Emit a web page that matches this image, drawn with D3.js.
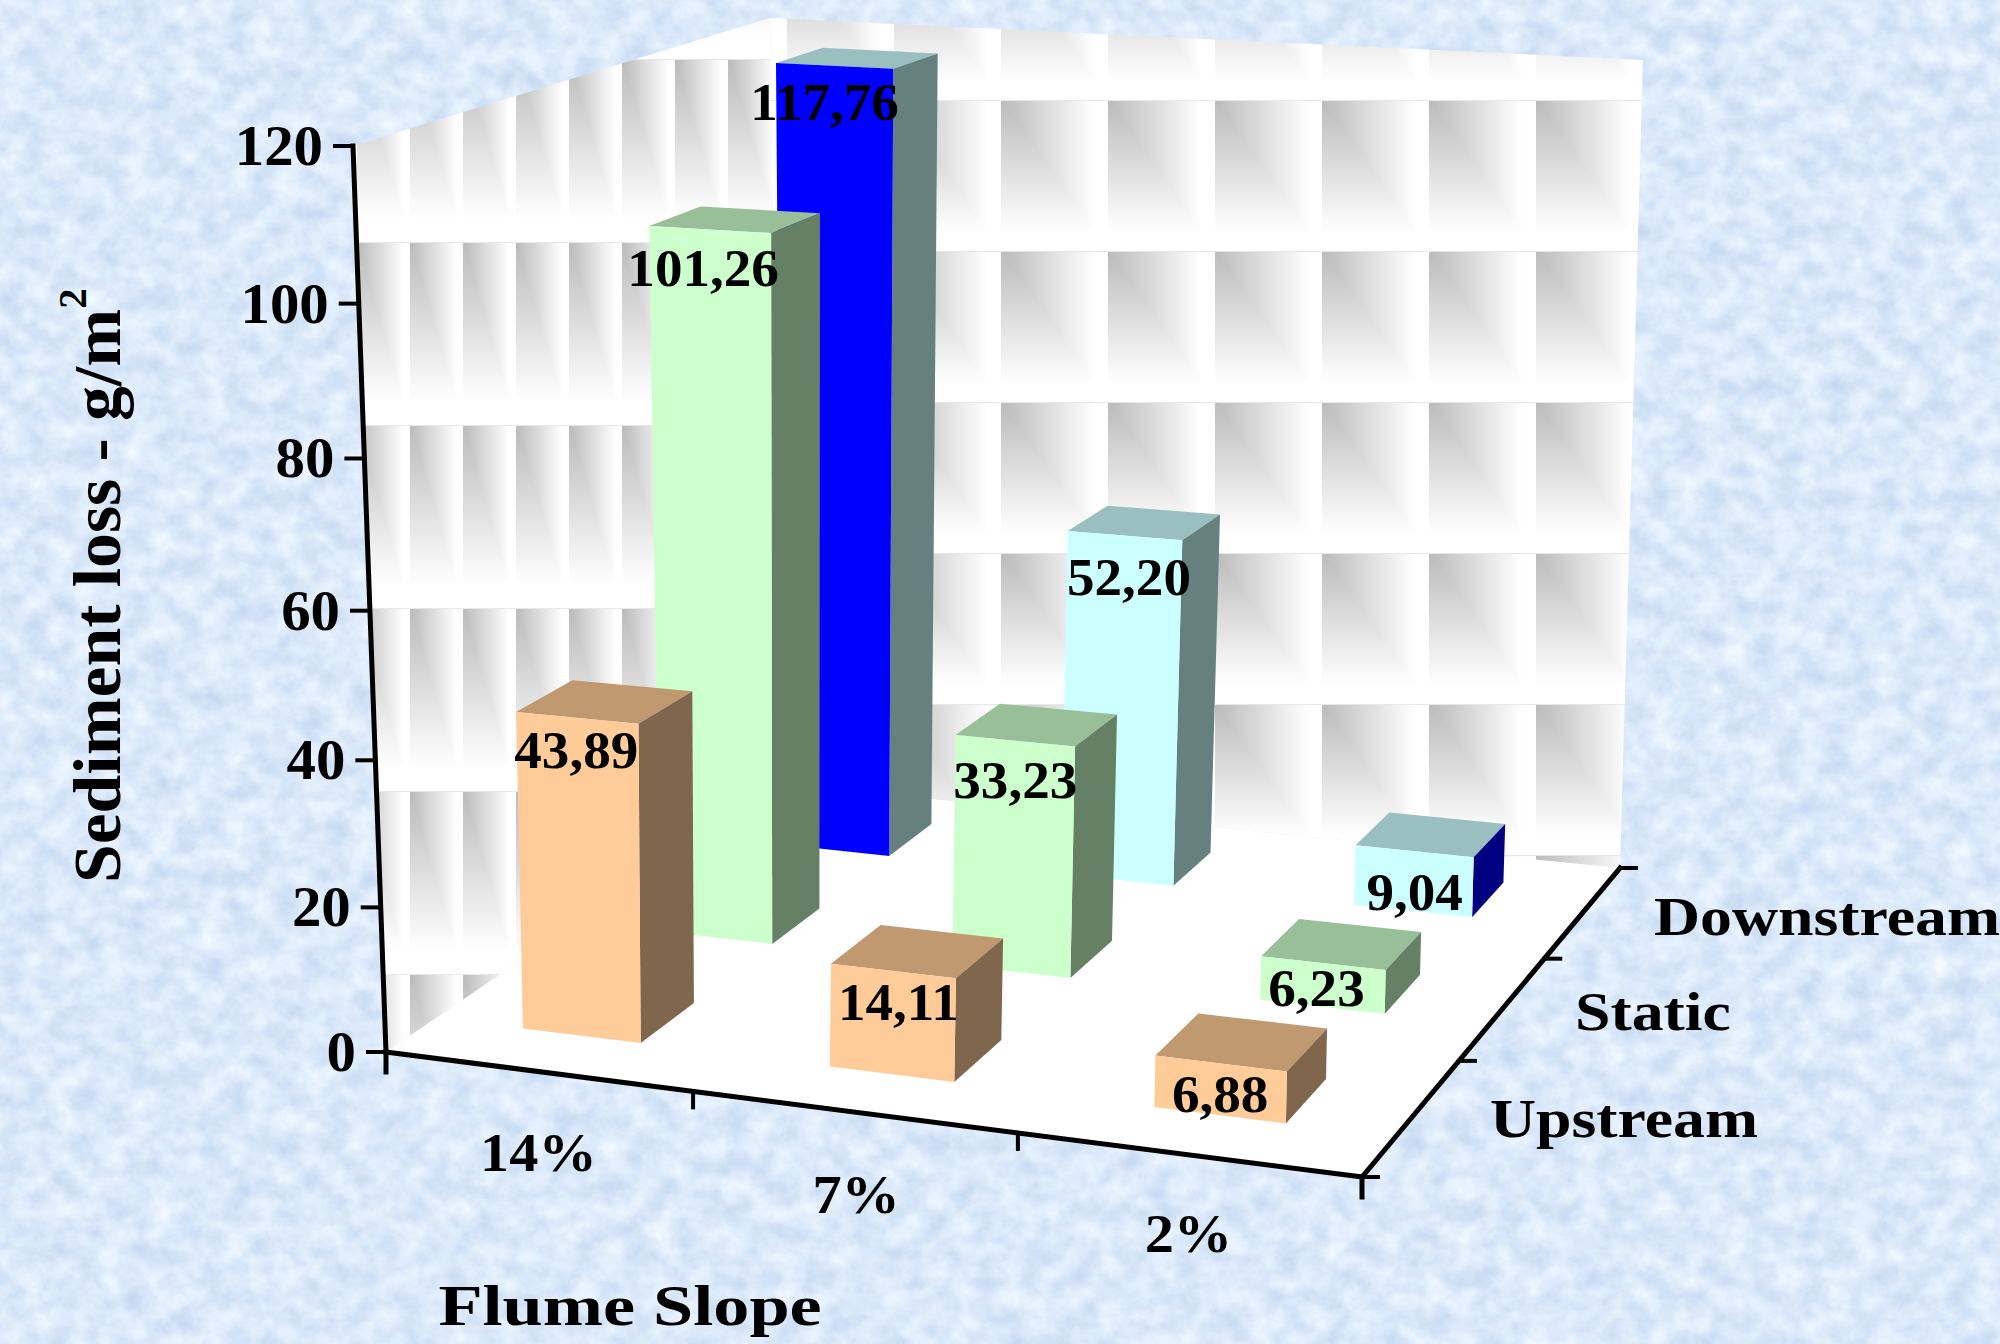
<!DOCTYPE html>
<html>
<head>
<meta charset="utf-8">
<script src="https://cdnjs.cloudflare.com/ajax/libs/d3/7.8.5/d3.min.js"></script>
<style>
html,body{margin:0;padding:0;background:#dbe9fa;overflow:hidden}
svg{display:block}
text{font-family:"Liberation Serif",serif;font-weight:700;fill:#000}
</style>
</head>
<body>
<svg id="chart" width="2000" height="1344"></svg>
<script>
// Sediment loss per flume slope and measuring position
const slopes = ["14%", "7%", "2%"];
const positions = ["Upstream", "Static", "Downstream"];
const upstream = [43.89, 14.11, 6.88];
const staticPos = [101.26, 33.23, 6.23];
const downstream = [117.76, 52.20, 9.04];
const seriesValues = [upstream, staticPos, downstream];
const valueTicks = [0, 20, 40, 60, 80, 100, 120];

// Face colours per series, with the per-point overrides of this chart
const frontColors = [["#FFCC99", "#FFCC99", "#FFCC99"], ["#CCFFCC", "#CCFFCC", "#CCFFCC"], ["#0000FF", "#CCFFFF", "#CCFFFF"]];
const topColors = ["#C09970", "#99BF99", "#99BFBF"];
const sideColors = [["#80664D", "#80664D", "#80664D"], ["#668066", "#668066", "#668066"], ["#668080", "#668080", "#000080"]];

// Small per-label shifts from the top of the front face
const labelShift = [[[1, 32], [7, 31], [1, 30]], [[-5, 38], [2, 39], [-5, 25]], [[-8, 36], [6, 41], [2, 41]]];

// Scene corners in page pixels: floor and the plane at the axis maximum
const floorQuad = [[386, 1052], [1362, 1177], [1620, 868], [780, 784]];
const roofQuad = [[353, 146], [1377, 195], [1643, 60], [770, 18]];
const depthRatio = 1.053;

function unitSquareToQuad(q) {
  const [[x0, y0], [x1, y1], [x2, y2], [x3, y3]] = q;
  const sx = x0 - x1 + x2 - x3, sy = y0 - y1 + y2 - y3;
  const dx1 = x1 - x2, dx2 = x3 - x2, dy1 = y1 - y2, dy2 = y3 - y2;
  const den = dx1 * dy2 - dx2 * dy1;
  const g = (sx * dy2 - dx2 * sy) / den, h = (dx1 * sy - sx * dy1) / den;
  const a = x1 - x0 + g * x1, b = x3 - x0 + h * x3, c = x0;
  const d = y1 - y0 + g * y1, e = y3 - y0 + h * y3, f = y0;
  return (u, v) => {
    const w = g * u + h * v + 1;
    return [(a * u + b * v + c) / w, (d * u + e * v + f) / w];
  };
}
const floorAt = unitSquareToQuad(floorQuad);
const roofAt = unitSquareToQuad(roofQuad);

const xBand = d3.scaleBand().domain(slopes).range([0, 1]);
const zBand = d3.scaleBand().domain(positions).range([0, 1]);
const yScale = d3.scaleLinear().domain([0, 120]).range([0, 1]);

// Model point (x along slopes, z in depth, value upward) to page pixels
function project(x, z, value) {
  const t = yScale(value);
  const s = t / (t + (1 - t) * depthRatio);
  const b = floorAt(x, z), r = roofAt(x, z);
  return [b[0] + (r[0] - b[0]) * s, b[1] + (r[1] - b[1]) * s];
}

const svg = d3.select("#chart");
const defs = svg.append("defs");
const poly = pts => pts.map(p => p.map(n => n.toFixed(1)).join(",")).join(" ");

// Mottled paper backdrop
const paper = defs.append("filter").attr("id", "paper")
  .attr("x", 0).attr("y", 0).attr("width", "100%").attr("height", "100%")
  .attr("color-interpolation-filters", "sRGB");
paper.append("feTurbulence").attr("type", "fractalNoise")
  .attr("baseFrequency", "0.04 0.045").attr("numOctaves", 5).attr("seed", 7);
paper.append("feColorMatrix").attr("type", "matrix")
  .attr("values", "0.22 0 0 0 0.75  0.16 0 0 0 0.835  0.08 0 0 0 0.94  0 0 0 0 1");
svg.append("rect").attr("width", 2000).attr("height", 1344).attr("filter", "url(#paper)");

// Wall tile: grey at the upper-left corner, mitred fade to white
function tileUrl(w, h) {
  const c = document.createElement("canvas");
  c.width = w; c.height = h;
  const ctx = c.getContext("2d");
  const img = ctx.createImageData(w, h);
  for (let j = 0; j < h; j++) for (let i = 0; i < w; i++) {
    const t = Math.min(1, Math.max(i / w, j / h) / 0.87);
    const g = j === 0 ? 232 : 187 + 68 * t;
    const k = (j * w + i) * 4;
    img.data[k] = img.data[k + 1] = img.data[k + 2] = g;
    img.data[k + 3] = 255;
  }
  ctx.putImageData(img, 0, 0);
  return c.toDataURL();
}
function addTile(id, w, h, ox, oy) {
  defs.append("pattern").attr("id", id).attr("patternUnits", "userSpaceOnUse")
    .attr("x", ox).attr("y", oy).attr("width", w).attr("height", h)
    .append("image").attr("href", tileUrl(w, h)).attr("width", w).attr("height", h);
}
addTile("tileBack", 107, 151, 1001, 100);
addTile("tileSide", 53, 183, 410, 59);

const maxV = yScale.domain()[1];
// Left wall, back wall and floor
svg.append("polygon").attr("fill", "url(#tileSide)")
  .attr("points", poly([project(0, 0, 0), project(0, 0, maxV), project(0, 1, maxV), project(0, 1, 0)]));
svg.append("polygon").attr("fill", "url(#tileBack)")
  .attr("points", poly([project(0, 1, 0), project(0, 1, maxV), project(1, 1, maxV), project(1, 1, 0)]));
svg.append("polygon").attr("fill", "#fff")
  .attr("points", poly([project(0, 0, 0), project(1, 0, 0), project(1, 1, 0), project(0, 1, 0)]));

// Axes
const axes = svg.append("g").attr("stroke", "#000").attr("stroke-linecap", "square");
function axisLine(a, b, w) {
  axes.append("line").attr("x1", a[0]).attr("y1", a[1]).attr("x2", b[0]).attr("y2", b[1]).attr("stroke-width", w);
}
axisLine(project(0, 0, 0), project(0, 0, maxV), 5);
axisLine(project(0, 0, 0), project(1, 0, 0), 5);
axisLine(project(1, 0, 0), project(1, 1, 0), 5);
valueTicks.forEach(v => {
  const p = project(0, 0, v);
  axisLine([p[0] - 18, p[1]], p, 4);
});
[0, 1, 2, 3].forEach(i => {
  const u = i === 3 ? 1 : xBand(slopes[i]);
  const p = project(u, 0, 0);
  if (i === 0 || i === 3) axisLine(p, [p[0], p[1] + 20], 5);
  else axisLine(p, [p[0], p[1] + 16], 4);
  const w = i === 3 ? 1 : zBand(positions[i]);
  const q = project(1, w, 0);
  axisLine(q, [q[0] + 16, q[1]], 4);
});

// Bars, painted from the back row forward
const barStart = 0.292, barEnd = 0.682, depthStart = 0.33, depthEnd = 0.72;
const bars = svg.append("g");
const decimalComma = d3.formatLocale({decimal: ",", thousands: ".", grouping: [3], currency: ["", ""]}).format(".2f");
const labelData = [];
d3.range(positions.length - 1, -1, -1).forEach(s => {
  d3.range(slopes.length - 1, -1, -1).forEach(c => {
    const value = seriesValues[s][c];
    const bw = xBand.bandwidth(), bd = zBand.bandwidth();
    const x0 = xBand(slopes[c]) + bw * barStart, x1 = xBand(slopes[c]) + bw * barEnd;
    const z0 = zBand(positions[s]) + bd * depthStart, z1 = zBand(positions[s]) + bd * depthEnd;
    bars.append("polygon").attr("fill", topColors[s])
      .attr("points", poly([project(x0, z0, value), project(x1, z0, value), project(x1, z1, value), project(x0, z1, value)]));
    bars.append("polygon").attr("fill", sideColors[s][c])
      .attr("points", poly([project(x1, z0, 0), project(x1, z0, value), project(x1, z1, value), project(x1, z1, 0)]));
    bars.append("polygon").attr("fill", frontColors[s][c])
      .attr("points", poly([project(x0, z0, 0), project(x0, z0, value), project(x1, z0, value), project(x1, z0, 0)]));
    const a = project(x0, z0, value), b = project(x1, z0, value);
    labelData.push({value, x: (a[0] + b[0]) / 2 + labelShift[s][c][0], y: (a[1] + b[1]) / 2 + labelShift[s][c][1]});
  });
});

function label(txt, x, y, size, stretch, anchor, rotate, stretchY) {
  return svg.append("text")
    .attr("transform", `translate(${x},${y}) rotate(${rotate || 0}) scale(${stretch},${stretchY || 1})`)
    .attr("text-anchor", anchor || "middle")
    .attr("font-size", size)
    .text(txt);
}

// Value labels on the bars
labelData.forEach(d => label(decimalComma(d.value), d.x - 2, d.y + 18, 52, 1.06));

// Value axis labels
valueTicks.forEach(v => {
  const p = project(0, 0, v);
  label(v, p[0] - 30, p[1] + 19, 56, 1.05, "end");
});

// Slope labels beneath the front edge
const slopeLabelShift = [[1, 100], [3, 101], [1, 97]];
slopes.forEach((c, i) => {
  const p = project(xBand(c) + xBand.bandwidth() / 2, 0, 0);
  label(c, p[0] + slopeLabelShift[i][0], p[1] + slopeLabelShift[i][1], 54, 1.08);
});

// Position labels beyond the right edge
const positionLabelX = [1490, 1575, 1654];
const positionLabelY = [1137, 1030, 935];
positions.forEach((c, i) => label(c, positionLabelX[i], positionLabelY[i], 55, 1.16, "start"));

// Axis titles
label("Flume Slope", 630, 1325, 56, 1.29);
const yTitle = label("Sediment loss - g/m", 120, 883, 58, 1.2, "start", -90, 1.15);
yTitle.append("tspan").attr("dy", -30).attr("font-size", 34).text("2");
</script>
</body>
</html>
